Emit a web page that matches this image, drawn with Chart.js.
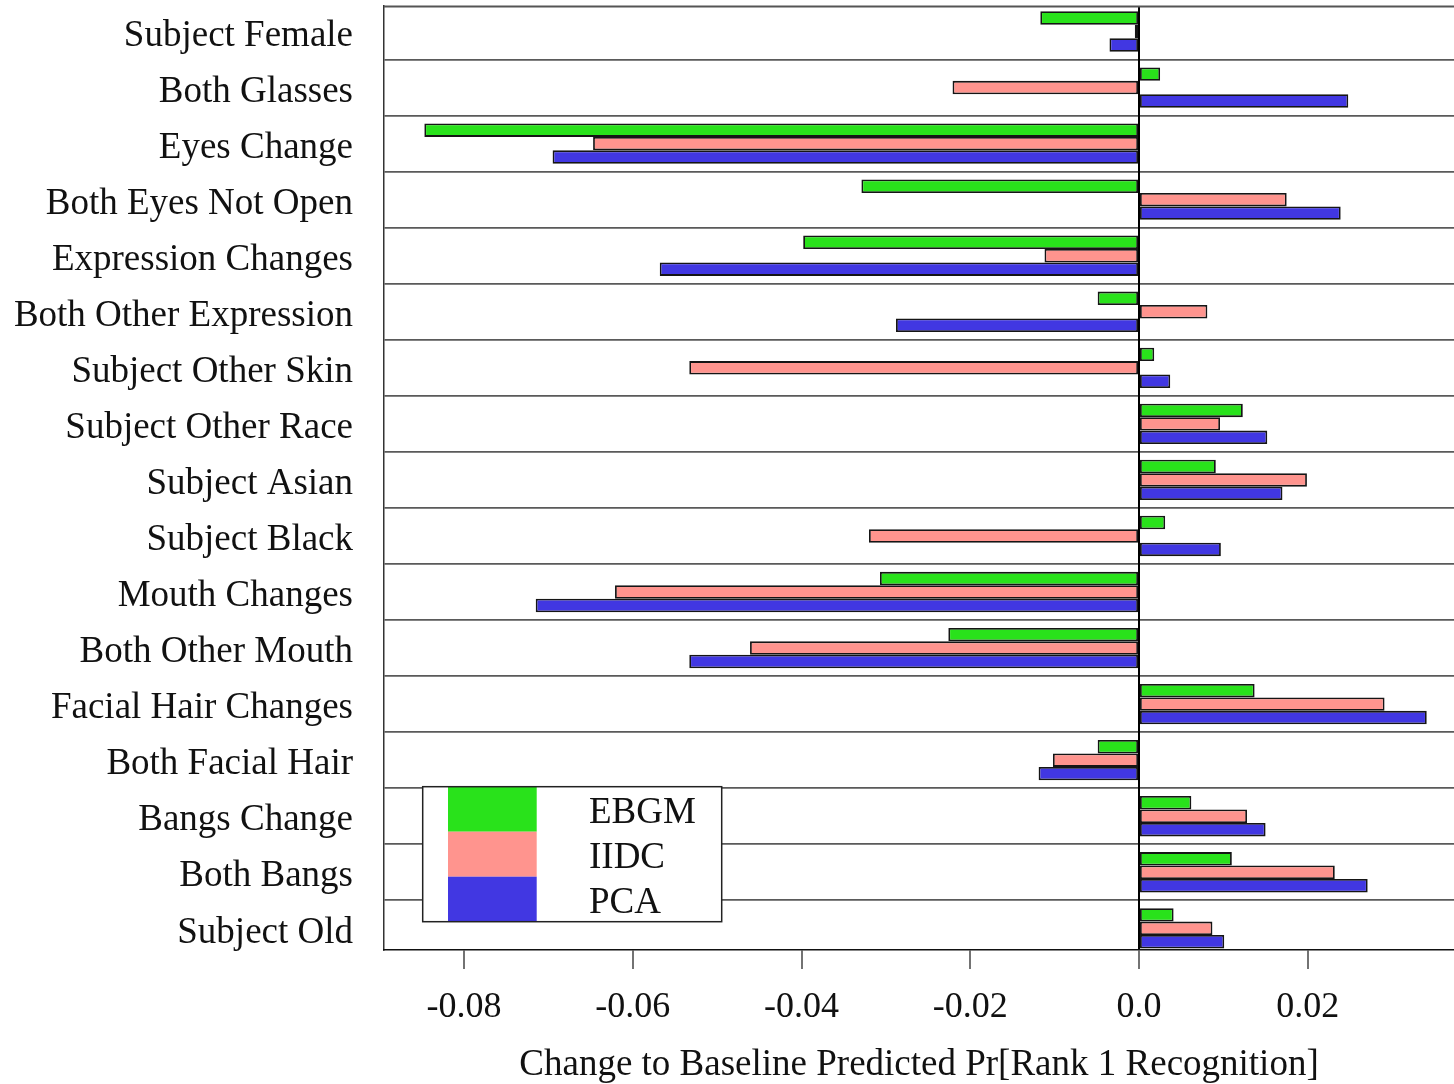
<!DOCTYPE html>
<html>
<head>
<meta charset="utf-8">
<script src="https://cdn.jsdelivr.net/npm/chart.js@4.4.0/dist/chart.umd.min.js"></script>
<style>
  html, body { margin: 0; padding: 0; background: #fff; }
  #wrap { width: 1454px; height: 1084px; }
</style>
</head>
<body>
<div id="wrap"><canvas id="c" width="1454" height="1084"></canvas></div>
<script>
// ---------------- data ----------------
const categories = ["Subject Female", "Both Glasses", "Eyes Change", "Both Eyes Not Open",
  "Expression Changes", "Both Other Expression", "Subject Other Skin", "Subject Other Race",
  "Subject Asian", "Subject Black", "Mouth Changes", "Both Other Mouth",
  "Facial Hair Changes", "Both Facial Hair", "Bangs Change", "Both Bangs", "Subject Old"];
const seriesNames = ["EBGM", "IIDC", "PCA"];
const ebgm = [-0.0117, 0.0025, -0.0847, -0.0329, -0.0398, -0.0049, 0.0018, 0.0123, 0.0091,
  0.0031, -0.0307, -0.0226, 0.0137, -0.0049, 0.0062, 0.0110, 0.0041];
const iidc = [-0.0005, -0.0221, -0.0647, 0.0175, -0.0112, 0.0081, -0.0533, 0.0096, 0.0199,
  -0.0320, -0.0621, -0.0461, 0.0291, -0.0102, 0.0128, 0.0232, 0.0087];
const pca = [-0.0035, 0.0248, -0.0695, 0.0239, -0.0568, -0.0288, 0.0037, 0.0152, 0.0170,
  0.0097, -0.0715, -0.0533, 0.0341, -0.0119, 0.0150, 0.0271, 0.0101];
const xTickValues = [-0.08, -0.06, -0.04, -0.02, 0, 0.02];
const xTickLabels = ["-0.08", "-0.06", "-0.04", "-0.02", "0.0", "0.02"];
const xTitle = "Change to Baseline Predicted Pr[Rank 1 Recognition]";

// ---------------- styling ----------------
const FONT = "'Liberation Serif', 'Times New Roman', serif";
const colors = ['#29E21B', '#FF948E', '#4137E2'];
Chart.defaults.font.family = FONT;
Chart.defaults.color = '#111';

const toPts = arr => arr.map((v, i) => ({ x: v, y: i }));
const datasets = [ebgm, iidc, pca].map((arr, k) => ({
  label: seriesNames[k],
  data: toPts(arr),
  backgroundColor: colors[k],
  borderColor: '#151515',
  borderWidth: 1.8,
  borderSkipped: false,
  barPercentage: 1.0,
  categoryPercentage: 0.72
}));

const boxPlugin = {
  id: 'boxAndLegend',
  afterDatasetsDraw(chart) {
    const { ctx, chartArea: a } = chart;
    ctx.save();
    // top border of plot box
    ctx.strokeStyle = '#555';
    ctx.lineWidth = 1.8;
    ctx.beginPath();
    ctx.moveTo(a.left, a.top + 0.5);
    ctx.lineTo(a.right, a.top + 0.5);
    ctx.stroke();

    // legend box
    const L = a.left + 38.7, T = a.top + 780.7, W = 299, H = 135;
    ctx.fillStyle = '#fff';
    ctx.fillRect(L, T, W, H);
    const rowH = H / 3;
    chart.data.datasets.forEach((ds, k) => {
      ctx.fillStyle = ds.backgroundColor;
      ctx.fillRect(L + 25.3, T + k * rowH, 88.7, rowH);
      ctx.fillStyle = '#111';
      ctx.font = "37px " + FONT;
      ctx.textBaseline = 'middle';
      ctx.textAlign = 'left';
      ctx.fillText(ds.label, L + 166.3, T + k * rowH + rowH / 2 + 4.5);
    });
    ctx.strokeStyle = '#222';
    ctx.lineWidth = 1.5;
    ctx.strokeRect(L, T, W, H);
    ctx.restore();
  }
};

new Chart(document.getElementById('c'), {
  type: 'bar',
  data: { datasets },
  options: {
    indexAxis: 'y',
    responsive: false,
    animation: false,
    devicePixelRatio: 1,
    events: [],
    layout: { padding: { top: 6, left: 0, right: 0, bottom: 0 } },
    plugins: { legend: { display: false }, tooltip: { enabled: false } },
    scales: {
      y: {
        type: 'linear',
        reverse: true,
        offset: false,
        min: -0.455,
        max: 16.387,
        afterBuildTicks: (scale) => { scale.ticks = categories.map((_, i) => ({ value: i })); },
        afterFit: (scale) => { scale.width = 384; scale.paddingTop = 0; scale.paddingBottom = 0; },
        ticks: {
          autoSkip: false,
          padding: 31,
          labelOffset: 4.5,
          font: { size: 37 },
          color: '#111',
          callback: (v) => categories[v]
        },
        grid: { offset: true, color: '#5a5a5a', lineWidth: 1.8, drawTicks: false },
        border: { display: true, color: '#333', width: 1.5 }
      },
      x: {
        type: 'linear',
        min: -0.08948,
        max: 0.03733,
        afterBuildTicks: (scale) => { scale.ticks = xTickValues.map(v => ({ value: v })); },
        afterFit: (scale) => { scale.height = 134; scale.paddingLeft = 0; scale.paddingRight = 0; },
        ticks: {
          autoSkip: false,
          maxRotation: 0,
          padding: 17,
          font: { size: 36 },
          color: '#111',
          callback: (v, i) => xTickLabels[i]
        },
        grid: {
          offset: false,
          color: (ctx) => (ctx.tick && ctx.tick.value === 0) ? '#000' : 'rgba(0,0,0,0)',
          lineWidth: 2,
          tickColor: '#444',
          tickWidth: 1.5,
          tickLength: 19
        },
        border: { display: true, color: '#111', width: 1.5 },
        title: {
          display: true,
          text: xTitle,
          font: { size: 37, lineHeight: 1.0 },
          color: '#111',
          padding: { top: 0, bottom: 0.5 }
        }
      }
    }
  },
  plugins: [boxPlugin]
});
</script>
</body>
</html>
